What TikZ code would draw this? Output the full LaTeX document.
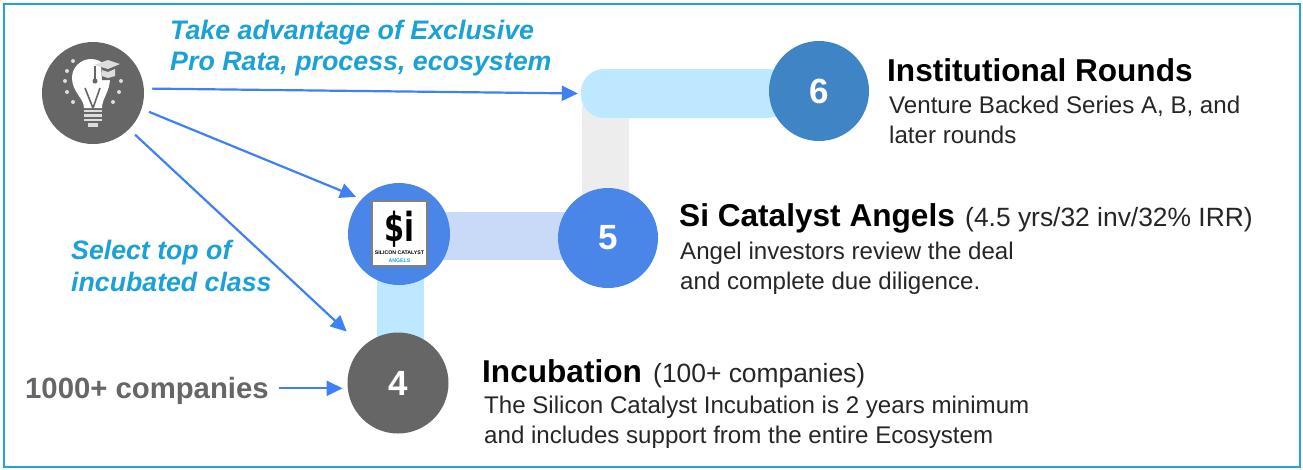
\documentclass[tikz,border=0pt]{standalone}
\usepackage{fontspec}
\setmainfont{Liberation Sans}
\newfontfamily\dejafont{DejaVu Sans}
\usetikzlibrary{arrows.meta,calc}
\definecolor{frameblue}{HTML}{1EA5D8}
\definecolor{titleblue}{HTML}{1BA1D6}
\definecolor{arrowblue}{HTML}{3F80F2}
\definecolor{circblue}{HTML}{4A86E8}
\definecolor{circsix}{HTML}{3F84C5}
\definecolor{circgrey}{HTML}{666666}
\definecolor{barsky}{HTML}{BEE8FF}
\definecolor{bargrey}{HTML}{EDEDED}
\definecolor{barperi}{HTML}{C9DAF8}
\definecolor{iconlight}{HTML}{DDDDDD}
\definecolor{bodyink}{HTML}{262626}
\newcommand{\fs}[2]{\fontsize{#1}{#2}\selectfont}
\tikzset{
  bar/.style={rectangle,inner sep=0pt,draw=none},
  disc/.style={circle,inner sep=0pt,minimum size=100pt,text=white,font=\fs{35}{35}\bfseries},
  arr/.style={draw=arrowblue,line width=2.2pt,-{Triangle[length=16pt,width=15pt]}},
  txt/.style={inner sep=0pt,anchor=base west,align=left,text=black},
  callout/.style={txt,text=titleblue,font=\fs{26.8}{31}\bfseries\itshape},
  head/.style={txt,font=\fs{31.6}{31}\bfseries},
  body/.style={txt,text=bodyink,font=\fs{24.1}{29.3}},
  stat/.style={txt,text=bodyink,font=\fs{26.4}{27}}
}
\begin{document}
\begin{tikzpicture}[x=1pt,y=-1pt]
\useasboundingbox (0,0) rectangle (1303,469);
\fill[white] (0,0) rectangle (1303,469);
\draw[frameblue,line width=2pt] (4,4) rectangle (1300,467);

% connecting bars
\node[bar,fill=bargrey,minimum width=47pt,minimum height=90pt] (bargrey) at (605.5,150) {};
\node[bar,fill=barperi,minimum width=130pt,minimum height=48pt] (barperi) at (500,236) {};
\node[bar,fill=barsky,minimum width=47pt,minimum height=70pt] (barlow) at (400.5,305) {};
\node[bar,fill=barsky,rounded corners=23pt,minimum width=210pt,minimum height=49pt] (barsix) at (686,93.5) {};

% discs
\node[disc,fill=circgrey,minimum size=102pt] (bulb) at (93,93) {};
\node[disc,fill=circblue,minimum size=102pt] (si) at (399,234) {};
\node[disc,fill=circblue] (five) at (608,238) {5};
\node[disc,fill=circsix] (six) at (819,91) {6};
\node[disc,fill=circgrey,minimum size=101pt] (four) at (398,383) {4};

% lightbulb icon
\fill[white] (84,108) .. controls (84,98) and (72,92) .. (72,78) .. controls (72,67) and (81,59) .. (91,59) .. controls (101,59) and (110,67) .. (110,78) .. controls (110,92) and (102,98) .. (102,108) -- cycle;
\draw[circgrey,line width=1.6pt] (85,88) -- (93,108) -- (100,88);
\draw[circgrey,line width=1.2pt] (95,66) -- (95,81);
\fill[circgrey] (95,81) circle (2.5);
\fill[circgrey] (101,64) -- (120,64) -- (118,80) -- (102,80) -- cycle;
\fill[iconlight] (94,65) -- (108,60) -- (120,64) -- (108,69) -- cycle;
\fill[iconlight] (102,70) -- (108,72) -- (115,69) -- (115,76) -- (108,78) -- (102,76) -- cycle;
\foreach \p/\q in {84/111,84/115.5,84/120} \draw[iconlight,line width=2.6pt] (\p,\q) -- ++(18,0);
\draw[iconlight,line width=3.2pt] (88,125) -- (98,125);
\foreach \p/\q in {73/61,67/71,65/81,67/92,73/102,113/102,119/92,121/81} \fill[iconlight] (\p,\q) circle (2);

% logo
\node[rectangle,draw=gray,fill=white,line width=2pt,minimum width=55pt,minimum height=65pt,inner sep=0pt] (logo) at (399.5,233.5) {};
\node[inner sep=0pt,anchor=base,font=\dejafont\fs{40}{40}\bfseries,text=black] (logotext) at (399,241) {\scalebox{.72}[1]{\$i}};
\node[inner sep=0pt,anchor=base,font=\fs{5.2}{5.2}\bfseries,text=black] (logoname) at (399.5,254) {SILICON CATALYST};
\node[inner sep=0pt,anchor=base,font=\fs{5.2}{5.2}\bfseries,text=titleblue] (logoangels) at (399.5,262) {ANGELS};

% texts
\node[callout] (take) at (170,70.5) {Take advantage of Exclusive\\Pro Rata, process, ecosystem};
\node[callout,font=\fs{26.7}{32}\bfseries\itshape] (select) at (71,291) {Select top of\\incubated class};
\node[txt,text=circgrey,font=\fs{29.3}{30}\bfseries] (thousand) at (25,398) {1000+ companies};
\node[head] (insthead) at (887,81) {Institutional Rounds};
\node[body] (instbody) at (889,143) {Venture Backed Series A, B, and\\later rounds};
\node[head] (anghead) at (679,226) {Si Catalyst Angels};
\node[stat] (angstat) at (965,226) {(4.5 yrs/32 inv/32\% IRR)};
\node[body] (angbody) at (680,289) {Angel investors review the deal\\and complete due diligence.};
\node[head] (inchead) at (482,382) {Incubation};
\node[stat] (incstat) at (653,382) {(100+ companies)};
\node[body] (incbody) at (484,443) {The Silicon Catalyst Incubation is 2 years minimum\\and includes support from the entire Ecosystem};

% arrows
\draw[arr,shorten <=8pt,shorten >=3pt] (bulb.5) -- (barsix.west);
\draw[arr,shorten <=8pt,shorten >=6pt] (bulb.-18) -- (si.137);
\draw[arr,shorten <=8pt,shorten >=22pt] (bulb.-45) -- (four.134);
\draw[arr,shorten <=10pt,shorten >=5pt] (thousand.east |- four.186) -- (four.186);
\end{tikzpicture}
\end{document}
